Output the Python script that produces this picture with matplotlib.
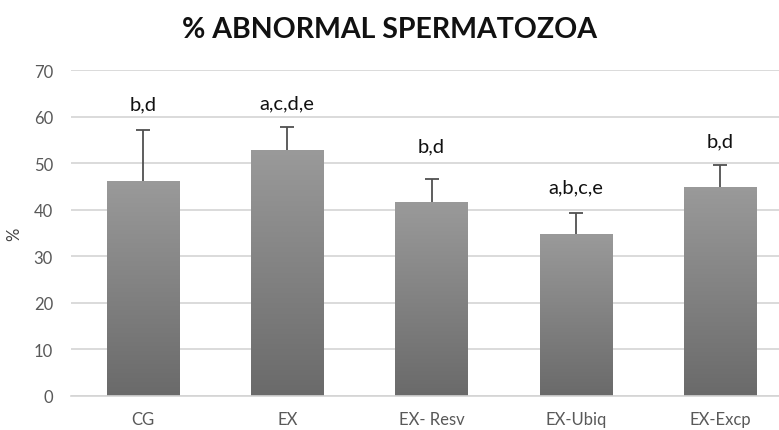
import numpy as np
import matplotlib
matplotlib.use('Agg')
import matplotlib.pyplot as plt

# data
groups = ['CG', 'EX', 'EX- Resv', 'EX-Ubiq', 'EX-Excp']
means = [46.2, 52.9, 41.6, 34.7, 44.9]
errors = [10.9, 4.9, 4.9, 4.6, 4.6]
letters = ['b,d', 'a,c,d,e', 'b,d', 'a,b,c,e', 'b,d']
letter_y = [61.6, 61.8, 52.6, 43.7, 53.6]

plt.rcParams['font.family'] = ['Lato', 'DejaVu Sans']

fig = plt.figure(figsize=(7.79, 4.31), dpi=100)
ax = fig.add_axes([71 / 779, 34 / 431, 721 / 779, 326 / 431])

x = np.arange(len(groups))
bars = ax.bar(x, means, width=0.5, color='#8a8a8a', zorder=2)

# vertical grey gradient inside each bar
grad = np.linspace(0, 1, 256).reshape(-1, 1)
cmap = matplotlib.colors.LinearSegmentedColormap.from_list('g', ['#6a6a6a', '#9a9a9a'])
for b in bars:
    bx, by = b.get_x(), b.get_y()
    w, h = b.get_width(), b.get_height()
    im = ax.imshow(grad, extent=[bx, bx + w, by, by + h], origin='lower',
                   cmap=cmap, aspect='auto', zorder=2.1)
    im.set_clip_path(b)

eb = ax.errorbar(x, means, yerr=[np.zeros(len(means)), errors], fmt='none',
                 ecolor='#505050', elinewidth=1.3, capsize=5, capthick=1.3, zorder=3)
# only keep the upper caps
for cap in eb[1]:
    if np.allclose(cap.get_ydata(), means):
        cap.set_visible(False)

for xi, txt, ty in zip(x, letters, letter_y):
    ax.text(xi, ty, txt, ha='center', va='baseline', fontsize=14.5, color='#111111')

ax.set_xlim(-0.5, 4.5)
ax.set_ylim(0, 70)
ax.set_yticks(range(0, 71, 10))
ax.yaxis.grid(True, color='#d4d4d4', linewidth=1.2, zorder=0)
ax.set_axisbelow(True)
for s in ['top', 'right', 'left']:
    ax.spines[s].set_visible(False)
ax.spines['bottom'].set_color('#d4d4d4')
ax.spines['bottom'].set_linewidth(1.2)
ax.tick_params(axis='both', length=0, colors='#595959', labelsize=12)
ax.tick_params(axis='y', pad=13)
ax.tick_params(axis='x', pad=11)
ax.set_xticks(x)
ax.set_xticklabels(groups)
ax.set_ylabel('%', fontsize=12, color='#404040', labelpad=8)

fig.text(0.5, 1 - 30 / 431, '% ABNORMAL SPERMATOZOA', ha='center', va='center',
         fontsize=20.5, fontweight='bold', color='#111111')

fig.savefig('out.png', dpi=100)
